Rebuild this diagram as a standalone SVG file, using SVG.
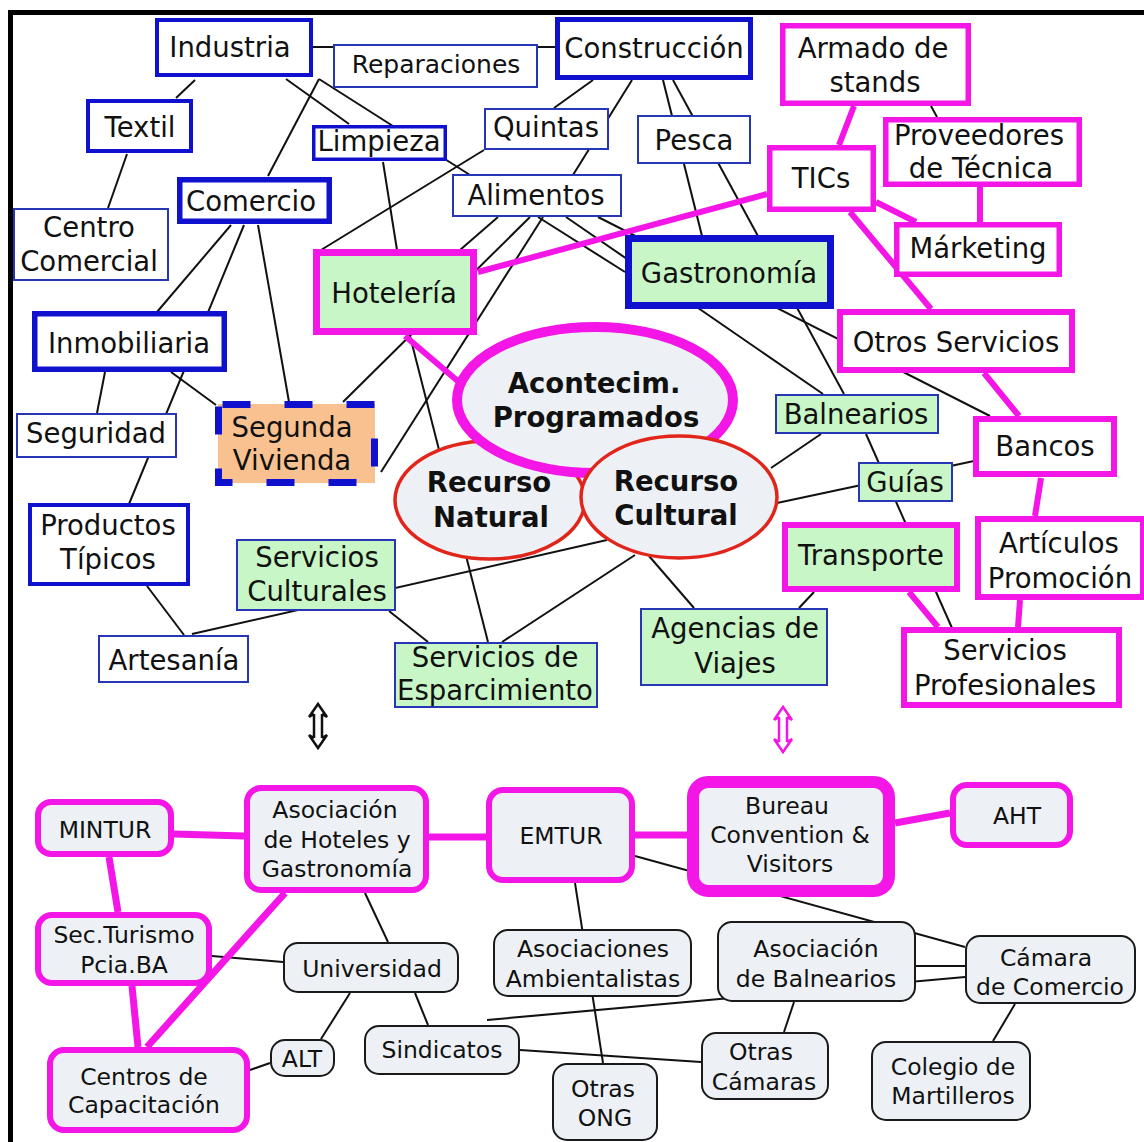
<svg xmlns="http://www.w3.org/2000/svg" width="1144" height="1142" viewBox="0 0 1144 1142">
<style>
.t{font-family:'DejaVu Sans',Verdana,sans-serif;font-size:27.5px;fill:#111;text-anchor:middle}
.s{font-size:23.5px}
.b{font-weight:bold}
.bk{stroke:#111;stroke-width:2;fill:none}
.mg{stroke:#f316e6;stroke-width:6;fill:none}
.mg7{stroke:#f316e6;stroke-width:7;fill:none}
.nb{fill:#fff;stroke:#1010cf}
.nt{fill:#fff;stroke:#2636b4;stroke-width:2}
.gt{fill:#c8f6c6;stroke:#2636b4;stroke-width:2}
.nm{fill:#fff;stroke:#f316e6}
.lm{fill:#edf1f5;stroke:#f316e6;stroke-width:6}
.lb{fill:#edf1f5;stroke:#1a1a1a;stroke-width:2}
.el{fill:#edf1f5}
</style>
<rect x="0" y="0" width="1144" height="1142" fill="#fff"/>
<g id="frame" fill="#000">
<rect x="9" y="10" width="1135" height="5"/>
<rect x="8" y="10" width="5" height="1132"/>
</g>
<g id="connectors">
<g class="bk">
<line x1="313" y1="47" x2="556" y2="47"/>
<line x1="195" y1="80" x2="176" y2="98"/>
<line x1="286" y1="79" x2="349" y2="124"/>
<line x1="319" y1="79" x2="268" y2="176"/>
<line x1="319" y1="79" x2="470" y2="175"/>
<line x1="127" y1="154" x2="108" y2="208"/>
<line x1="231" y1="225" x2="157" y2="312"/>
<line x1="244" y1="225" x2="129" y2="504"/>
<line x1="258" y1="225" x2="289" y2="402"/>
<line x1="105" y1="372" x2="97" y2="413"/>
<line x1="171" y1="372" x2="216" y2="405"/>
<line x1="484" y1="150" x2="321" y2="250"/>
<line x1="593" y1="80" x2="554" y2="108"/>
<line x1="632" y1="80" x2="573" y2="175"/>
<line x1="663" y1="80" x2="702" y2="236"/>
<line x1="673" y1="80" x2="844" y2="394"/>
<line x1="383" y1="162" x2="397" y2="250"/>
<line x1="498" y1="217" x2="460" y2="250"/>
<line x1="530" y1="217" x2="343" y2="402"/>
<line x1="543" y1="217" x2="381" y2="472"/>
<line x1="538" y1="217" x2="625" y2="272"/>
<line x1="566" y1="217" x2="823" y2="394"/>
<line x1="598" y1="217" x2="990" y2="416"/>
<line x1="410" y1="336" x2="488" y2="642"/>
<line x1="821" y1="434" x2="771" y2="468"/>
<line x1="866" y1="434" x2="952" y2="628"/>
<line x1="777" y1="503" x2="974" y2="461"/>
<line x1="607" y1="540" x2="192" y2="634"/>
<line x1="635" y1="555" x2="502" y2="642"/>
<line x1="649" y1="556" x2="694" y2="608"/>
<line x1="389" y1="611" x2="428" y2="642"/>
<line x1="147" y1="586" x2="184" y2="635"/>
<line x1="814" y1="592" x2="799" y2="608"/>
<line x1="931" y1="106" x2="937" y2="117"/>
<line x1="365" y1="893" x2="388" y2="942"/>
<line x1="212" y1="956" x2="283" y2="962"/>
<line x1="350" y1="993" x2="321" y2="1039"/>
<line x1="270" y1="1063" x2="250" y2="1070"/>
<line x1="415" y1="993" x2="428" y2="1025"/>
<line x1="487" y1="1020" x2="965" y2="977"/>
<line x1="520" y1="1050" x2="701" y2="1062"/>
<line x1="575" y1="883" x2="603" y2="1063"/>
<line x1="635" y1="856" x2="965" y2="947"/>
<line x1="916" y1="966" x2="965" y2="966"/>
<line x1="794" y1="1002" x2="784" y2="1032"/>
<line x1="1015" y1="1004" x2="993" y2="1041"/>
</g>
<g class="mg">
<line x1="478" y1="272" x2="767" y2="194"/>
<line x1="405" y1="336" x2="460" y2="383"/>
<line x1="839" y1="145" x2="854" y2="106"/>
<line x1="876" y1="202" x2="916" y2="222"/>
<line x1="850" y1="212" x2="931" y2="309"/>
<line x1="980" y1="187" x2="980" y2="222"/>
<line x1="984" y1="373" x2="1019" y2="416"/>
<line x1="1041" y1="478" x2="1035" y2="516"/>
<line x1="1020" y1="600" x2="1018" y2="627"/>
<line x1="909" y1="592" x2="938" y2="627"/>
</g>
<g class="mg7">
<line x1="174" y1="834" x2="244" y2="836"/>
<line x1="429" y1="837" x2="486" y2="837"/>
<line x1="635" y1="835" x2="687" y2="835"/>
<line x1="895" y1="823" x2="950" y2="813"/>
<line x1="109" y1="857" x2="118" y2="912"/>
<line x1="132" y1="986" x2="138" y2="1047"/>
<line x1="285" y1="893" x2="147" y2="1047"/>
</g>
</g>
<g id="arrows" fill="none" stroke-width="2.5" stroke-linejoin="miter">
<path stroke="#111" d="M314,714V738M322,714V738M309,717L318,704L327,717L322,714M309,717L314,714M309,735L318,748L327,735L322,738M309,735L314,738"/>
<path stroke="#f316e6" d="M779,717V742M787,717V742M774,720L783,707L792,720L787,717M774,720L779,717M774,739L783,752L792,739L787,742M774,739L779,742"/>
</g>
<g id="industria"><rect class="nb" stroke-width="4" x="157" y="20" width="154" height="55"/><text class="t" x="230" y="57">Industria</text></g>
<g id="reparaciones"><rect class="nt" x="334" y="45" width="203" height="42"/><text class="t" style="font-size:25px" x="436" y="73">Reparaciones</text></g>
<g id="construccion"><rect class="nb" stroke-width="5" x="557.5" y="19.5" width="193" height="58"/><text class="t" x="654" y="58">Construcción</text></g>
<g id="textil"><rect class="nb" stroke-width="4" x="88" y="101" width="103" height="50"/><text class="t" x="140" y="137">Textil</text></g>
<g id="limpieza"><rect class="nb" stroke-width="3.5" x="313.75" y="126.75" width="131.5" height="32.5"/><text class="t" x="379" y="151">Limpieza</text></g>
<g id="quintas"><rect class="nt" x="485" y="109" width="123" height="40"/><text class="t" x="546" y="137">Quintas</text></g>
<g id="pesca"><rect class="nt" x="638" y="116" width="112" height="47"/><text class="t" x="694" y="150">Pesca</text></g>
<g id="alimentos"><rect class="nt" x="453" y="175" width="168" height="41"/><text class="t" x="536" y="205">Alimentos</text></g>
<g id="comercio"><rect class="nb" stroke-width="5.5" x="179.75" y="179.75" width="149.5" height="41.5"/><text class="t" x="251" y="211">Comercio</text></g>
<g id="centro-comercial"><rect class="nt" x="14" y="209" width="154" height="71"/><text class="t" x="89" y="237">Centro</text><text class="t" x="89" y="271">Comercial</text></g>
<g id="hoteleria"><rect fill="#c8f6c6" stroke="#f316e6" stroke-width="7" x="316.5" y="252.5" width="157" height="79"/><text class="t" x="394" y="303">Hotelería</text></g>
<g id="inmobiliaria"><rect class="nb" stroke-width="5.5" x="34.75" y="313.75" width="189.5" height="55.5"/><text class="t" x="129" y="353">Inmobiliaria</text></g>
<g id="seguridad"><rect class="nt" x="17" y="414" width="159" height="43"/><text class="t" x="96" y="443">Seguridad</text></g>
<g id="segunda-vivienda"><rect fill="#f9c18f" x="218" y="404" width="157" height="79"/><rect fill="none" stroke="#1010cf" stroke-width="7" stroke-dasharray="28 34" stroke-dashoffset="-4" x="218.5" y="404.5" width="156" height="78"/><text class="t" x="292" y="437">Segunda</text><text class="t" x="292" y="470">Vivienda</text></g>
<g id="productos-tipicos"><rect class="nb" stroke-width="4" x="30" y="505" width="158" height="79"/><text class="t" x="108" y="535">Productos</text><text class="t" x="108" y="569">Típicos</text></g>
<g id="servicios-culturales"><rect class="gt" x="237" y="540" width="158" height="70"/><text class="t" x="317" y="567">Servicios</text><text class="t" x="317" y="601">Culturales</text></g>
<g id="artesania"><rect class="nt" x="99" y="636" width="149" height="46"/><text class="t" x="174" y="670">Artesanía</text></g>
<g id="servicios-esparcimiento"><rect class="gt" x="395" y="643" width="202" height="64"/><text class="t" x="495" y="667">Servicios de</text><text class="t" x="495" y="700">Esparcimiento</text></g>
<g id="gastronomia"><rect fill="#c8f6c6" stroke="#1010cf" stroke-width="7" x="628.5" y="238.5" width="202" height="67"/><text class="t" x="729" y="283">Gastronomía</text></g>
<g id="armado-stands"><rect class="nm" stroke-width="5.5" x="782.75" y="25.75" width="185.5" height="77.5"/><text class="t" x="873" y="58">Armado de</text><text class="t" x="875" y="92">stands</text></g>
<g id="proveedores"><rect class="nm" stroke-width="5.5" x="885.75" y="119.75" width="193.5" height="64.5"/><text class="t" x="979" y="145">Proveedores</text><text class="t" x="981" y="178">de Técnica</text></g>
<g id="tics"><rect class="nm" stroke-width="5.5" x="769.75" y="147.75" width="103.5" height="61.5"/><text class="t" x="821" y="188">TICs</text></g>
<g id="marketing"><rect class="nm" stroke-width="5.5" x="896.75" y="224.75" width="162.5" height="49.5"/><text class="t" x="978" y="258">Márketing</text></g>
<g id="otros-servicios"><rect class="nm" stroke-width="6" x="840" y="312" width="232" height="58"/><text class="t" x="956" y="352">Otros Servicios</text></g>
<g id="balnearios"><rect class="gt" x="776" y="395" width="162" height="38"/><text class="t" x="856" y="424">Balnearios</text></g>
<g id="guias"><rect class="gt" x="859" y="463" width="93" height="38"/><text class="t" x="905" y="492">Guías</text></g>
<g id="bancos"><rect class="nm" stroke-width="6" x="976" y="419" width="138" height="55"/><text class="t" x="1045" y="456">Bancos</text></g>
<g id="articulos-promocion"><rect class="nm" stroke-width="6" x="978" y="519" width="165" height="78"/><text class="t" x="1059" y="553">Artículos</text><text class="t" x="1060" y="588">Promoción</text></g>
<g id="transporte"><rect fill="#c8f6c6" stroke="#f316e6" stroke-width="6" x="785" y="525" width="172" height="64"/><text class="t" x="871" y="565">Transporte</text></g>
<g id="agencias-viajes"><rect class="gt" x="641" y="609" width="186" height="76"/><text class="t" x="735" y="638">Agencias de</text><text class="t" x="735" y="673">Viajes</text></g>
<g id="servicios-profesionales"><rect class="nm" stroke-width="6" x="904" y="630" width="215" height="75"/><text class="t" x="1005" y="660">Servicios</text><text class="t" x="1005" y="695">Profesionales</text></g>
<g id="recurso-natural"><ellipse class="el" stroke="#e1251b" stroke-width="3.5" cx="490" cy="500" rx="95" ry="59"/><text class="t b" x="489" y="492">Recurso</text><text class="t b" x="491" y="527">Natural</text></g>
<g id="acontecim-programados"><ellipse class="el" stroke="#f316e6" stroke-width="10" cx="595" cy="400" rx="138" ry="73"/><text class="t b" x="594" y="393">Acontecim.</text><text class="t b" x="596" y="427">Programados</text></g>
<g id="recurso-cultural"><ellipse class="el" stroke="#e1251b" stroke-width="3.5" cx="679" cy="497" rx="98" ry="61"/><text class="t b" x="676" y="491">Recurso</text><text class="t b" x="676" y="525">Cultural</text></g>
<g id="mintur"><rect class="lm" rx="13" x="38" y="802" width="133" height="52"/><text class="t s" x="105" y="838">MINTUR</text></g>
<g id="asoc-hoteles"><rect class="lm" rx="14" x="247" y="788" width="179" height="102"/><text class="t s" x="335" y="818">Asociación</text><text class="t s" x="337" y="848">de Hoteles y</text><text class="t s" x="337" y="877">Gastronomía</text></g>
<g id="emtur"><rect class="lm" rx="14" x="489" y="790" width="143" height="90"/><text class="t s" x="561" y="844">EMTUR</text></g>
<g id="bureau"><rect fill="#edf1f5" stroke="#f316e6" stroke-width="12" rx="15" x="693" y="782" width="196" height="109"/><text class="t s" x="787" y="814">Bureau</text><text class="t s" x="790" y="843">Convention &amp;</text><text class="t s" x="790" y="872">Visitors</text></g>
<g id="aht"><rect class="lm" rx="14" x="953" y="785" width="117" height="60"/><text class="t s" x="1017" y="824">AHT</text></g>
<g id="sec-turismo"><rect class="lm" rx="14" x="38" y="915" width="171" height="68"/><text class="t s" x="124" y="943">Sec.Turismo</text><text class="t s" x="124" y="973">Pcia.BA</text></g>
<g id="universidad"><rect class="lb" rx="14" x="284" y="943" width="174" height="49"/><text class="t s" x="372" y="977">Universidad</text></g>
<g id="alt"><rect class="lb" rx="14" x="271" y="1040" width="63" height="36"/><text class="t s" x="302" y="1067">ALT</text></g>
<g id="sindicatos"><rect class="lb" rx="14" x="365" y="1026" width="154" height="48"/><text class="t s" x="442" y="1058">Sindicatos</text></g>
<g id="centros-capacitacion"><rect class="lm" rx="14" x="50" y="1050" width="197" height="80"/><text class="t s" x="144" y="1085">Centros de</text><text class="t s" x="144" y="1113">Capacitación</text></g>
<g id="asoc-ambientalistas"><rect class="lb" rx="14" x="494" y="930" width="197" height="66"/><text class="t s" x="593" y="957">Asociaciones</text><text class="t s" x="593" y="987">Ambientalistas</text></g>
<g id="asoc-balnearios"><rect class="lb" rx="14" x="718" y="922" width="197" height="79"/><text class="t s" x="816" y="957">Asociación</text><text class="t s" x="816" y="987">de Balnearios</text></g>
<g id="camara-comercio"><rect class="lb" rx="14" x="966" y="936" width="169" height="67"/><text class="t s" x="1046" y="966">Cámara</text><text class="t s" x="1050" y="995">de Comercio</text></g>
<g id="otras-camaras"><rect class="lb" rx="14" x="702" y="1033" width="126" height="66"/><text class="t s" x="761" y="1060">Otras</text><text class="t s" x="764" y="1090">Cámaras</text></g>
<g id="otras-ong"><rect class="lb" rx="14" x="553" y="1064" width="104" height="76"/><text class="t s" x="603" y="1097">Otras</text><text class="t s" x="605" y="1126">ONG</text></g>
<g id="colegio-martilleros"><rect class="lb" rx="14" x="872" y="1042" width="158" height="78"/><text class="t s" x="953" y="1075">Colegio de</text><text class="t s" x="953" y="1104">Martilleros</text></g>
</svg>
